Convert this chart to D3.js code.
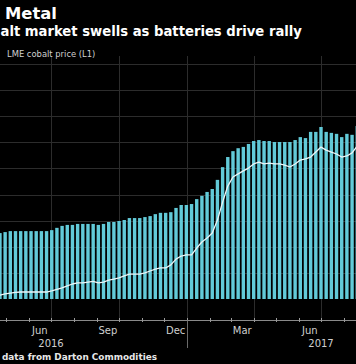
<!DOCTYPE html>
<html><head><meta charset="utf-8">
<script src="https://cdn.jsdelivr.net/npm/d3@7/dist/d3.min.js"></script>
<style>html,body{margin:0;padding:0;background:#000;overflow:hidden}svg{display:block}</style>
</head><body>
<script>
// ---- data ----
const titleText = "Metal";
const subtitleText = "alt market swells as batteries drive rally";
const legendText = "LME cobalt price (L1)";
const sourceText = "data from Darton Commodities";
const firstWeek = new Date(2016, 3, 23);   // weekly observations (Saturdays)
const barValues = [10.1,10.25,10.4,10.4,10.4,10.4,10.4,10.4,10.4,10.4,
  10.55,10.9,11.2,11.35,11.35,11.5,11.5,11.5,11.5,11.35,
  11.5,11.8,11.8,11.95,12.1,12.4,12.4,12.4,12.55,12.7,
  13.0,13.2,13.2,13.3,13.95,14.4,14.4,14.55,15.3,15.8,
  16.4,16.85,18.25,20.2,21.75,22.65,23.1,23.3,23.75,24.2,
  24.35,24.2,24.2,24.05,24.05,24.05,24.05,24.35,24.8,24.65,
  25.6,25.6,26.35,25.6,25.45,25.3,24.8,25.3,25.15,26.5];
const lmePrice = [24450,24700,24900,25050,25150,25150,25150,25150,25150,25150,
  25400,25750,26100,26550,27000,27250,27250,27450,27600,27250,
  27450,27900,28150,28400,28850,29300,29300,29300,29550,30000,
  30450,30700,30700,31400,32750,33450,33700,33700,35300,36700,
  37600,38750,41750,45900,49600,51700,52400,53100,53750,54700,
  55150,54700,54900,54700,54700,54450,54000,54700,55600,55850,
  56300,57450,58600,57900,57450,57000,56300,56550,57250,58850];
const monthLabels = {2:"Mar",5:"Jun",8:"Sep",11:"Dec"};
const yearLabels = [2016, 2017];

// ---- layout ----
const W = 356, H = 364;
const svg = d3.select("body").append("svg").attr("width", W).attr("height", H)
  .style("background", "#000");

const weeks = barValues.map((v, i) => d3.timeDay.offset(firstWeek, 7 * i));

const x = d3.scaleTime()
  .domain([new Date(2016, 6, 1), new Date(2017, 6, 1)])
  .range([51, 321]);
const yBar = d3.scaleLinear().domain([0, 36]).range([299, 64]);
const yLine = d3.scaleLinear().domain([24000, 60000]).range([297, 141]);

const axisY = 320.5;
const gridColor = "#2c2c2c";

// horizontal gridlines
svg.append("g").selectAll("line").data(d3.range(4, 37, 4)).join("line")
  .attr("x1", 0).attr("x2", W)
  .attr("y1", d => Math.round(yBar(d)) + 0.5).attr("y2", d => Math.round(yBar(d)) + 0.5)
  .attr("stroke", gridColor).attr("stroke-width", 1);

// vertical quarter gridlines
const quarters = d3.timeMonth.range(new Date(2016, 3, 1), new Date(2017, 9, 1), 3);
svg.append("g").selectAll("line").data(quarters).join("line")
  .attr("x1", d => Math.round(x(d)) + 0.5).attr("x2", d => Math.round(x(d)) + 0.5)
  .attr("y1", 56).attr("y2", axisY)
  .attr("stroke", gridColor).attr("stroke-width", 1);

// bars
const bw = 3.4;
svg.append("g").selectAll("rect").data(barValues).join("rect")
  .attr("x", (d, i) => x(weeks[i]) - bw / 2)
  .attr("width", bw)
  .attr("y", d => yBar(d))
  .attr("height", d => yBar(0) - yBar(d))
  .attr("fill", "#62cad8");

// line
svg.append("path").datum(lmePrice)
  .attr("d", d3.line().x((d, i) => x(weeks[i])).y(d => yLine(d)).curve(d3.curveLinear))
  .attr("fill", "none").attr("stroke", "#eef6f7").attr("stroke-width", 1.3)
  .attr("stroke-linejoin", "round");

// x axis
svg.append("line").attr("x1", 0).attr("x2", W).attr("y1", axisY).attr("y2", axisY)
  .attr("stroke", "#8a8a8a").attr("stroke-width", 1);
const months = d3.timeMonth.range(new Date(2016, 3, 1), new Date(2017, 8, 1));
svg.append("g").selectAll("line").data(months).join("line")
  .attr("x1", d => Math.round(x(d)) + 0.5).attr("x2", d => Math.round(x(d)) + 0.5)
  .attr("y1", axisY - 2.5).attr("y2", axisY + 1.5)
  .attr("stroke", "#9a9a9a").attr("stroke-width", 1);
// year separator
svg.append("line")
  .attr("x1", Math.round(x(new Date(2017, 0, 1))) + 0.5).attr("x2", Math.round(x(new Date(2017, 0, 1))) + 0.5)
  .attr("y1", axisY).attr("y2", 348)
  .attr("stroke", "#6a6a6a").attr("stroke-width", 1);

const font = "'DejaVu Sans', Verdana, sans-serif";
svg.append("g").selectAll("text").data(months.filter(d => monthLabels[d.getMonth()] !== undefined)).join("text")
  .attr("x", d => (x(d) + x(d3.timeMonth.offset(d, 1))) / 2)
  .attr("y", 334)
  .attr("text-anchor", "middle")
  .attr("fill", "#cfcfcf").attr("font-family", font).attr("font-size", 10)
  .text(d => monthLabels[d.getMonth()]);
svg.append("g").selectAll("text").data(yearLabels).join("text")
  .attr("x", d => x(new Date(d, 6, 1)))
  .attr("y", 346.5)
  .attr("text-anchor", "middle")
  .attr("fill", "#cfcfcf").attr("font-family", font).attr("font-size", 10)
  .text(d => d);

// titles
svg.append("text").attr("x", 5).attr("y", 19)
  .attr("fill", "#fff").attr("font-family", font).attr("font-weight", "bold").attr("font-size", 16.4)
  .text(titleText);
svg.append("text").attr("x", 0.5).attr("y", 36)
  .attr("fill", "#fff").attr("font-family", font).attr("font-weight", "bold").attr("font-size", 13.2)
  .text(subtitleText);
svg.append("text").attr("x", 7).attr("y", 57)
  .attr("fill", "#d0d0d0").attr("font-family", font).attr("font-size", 8.4)
  .text(legendText);
svg.append("text").attr("x", 2).attr("y", 360)
  .attr("fill", "#e8e8e8").attr("font-family", font).attr("font-weight", "bold").attr("font-size", 8.9)
  .text(sourceText);
</script>
</body></html>
